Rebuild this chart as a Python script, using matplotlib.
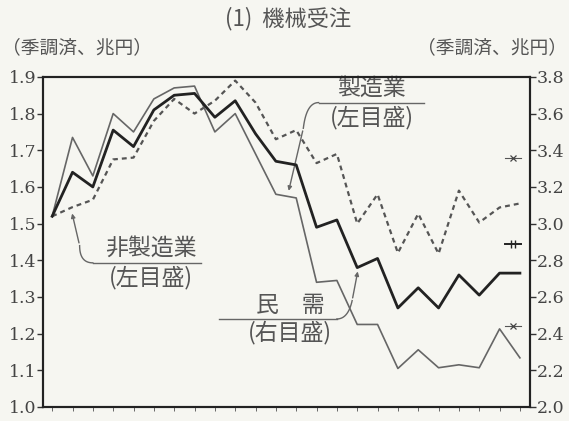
import numpy as np
import matplotlib
matplotlib.use("Agg")
import matplotlib.pyplot as plt

plt.rcParams['font.family'] = ['Noto Sans CJK JP', 'DejaVu Sans']

# monthly points (24 months)
months = np.arange(24)

# 民需 (right axis, 兆円)
minju = [3.04, 3.28, 3.20, 3.51, 3.42, 3.62, 3.70, 3.71, 3.58, 3.67, 3.49, 3.34,
         3.32, 2.98, 3.02, 2.76, 2.81, 2.54, 2.65, 2.54, 2.72, 2.61, 2.73, 2.73]
# 製造業 (left axis)
seizo = [1.52, 1.735, 1.63, 1.80, 1.75, 1.84, 1.87, 1.875, 1.75, 1.80, 1.69, 1.58,
         1.57, 1.34, 1.345, 1.225, 1.225, 1.105, 1.156, 1.107, 1.115, 1.107, 1.213, 1.134]
# 非製造業 (left axis)
hiseizo = [1.52, 1.545, 1.565, 1.675, 1.68, 1.78, 1.84, 1.80, 1.835, 1.89, 1.83, 1.73,
           1.755, 1.665, 1.69, 1.50, 1.58, 1.42, 1.527, 1.418, 1.59, 1.503, 1.544, 1.555]

# outlook marks near the right edge
outlook_hiseizo = 1.68
outlook_minju = 2.89
outlook_seizo = 1.22

bg = '#f6f6f1'
txt = '#555555'

fig = plt.figure(figsize=(5.69, 4.21), dpi=100, facecolor=bg)
ax = fig.add_axes([0.0756, 0.0333, 0.856, 0.784], facecolor=bg)
ax2 = ax.twinx()

ax.plot(months, hiseizo, color='#555555', lw=1.6, dashes=(2.2, 1.8))
ax.plot(months, seizo, color='#666666', lw=1.2)
ax2.plot(months, minju, color='#222222', lw=2.0)

ax.set_xlim(-0.45, 23.5)
ax.set_ylim(1.0, 1.9)
ax2.set_ylim(2.0, 3.8)

ax.set_yticks(np.arange(1.0, 1.91, 0.1))
ax.set_yticklabels([f"{v:.1f}" for v in np.arange(1.0, 1.91, 0.1)])
ax2.set_yticks(np.arange(2.0, 3.81, 0.2))
ax2.set_yticklabels([f"{v:.1f}" for v in np.arange(2.0, 3.81, 0.2)])
ax.set_xticks(months)
ax.set_xticklabels([])

for a in (ax, ax2):
    for s in a.spines.values():
        s.set_linewidth(1.5)
        s.set_color('#222222')
    a.tick_params(axis='y', direction='out', length=4, width=1.0, color='#333333',
                  labelsize=12.5, labelcolor='#444444', pad=1)
    for lab in a.get_yticklabels():
        lab.set_family('DejaVu Serif')
ax.tick_params(axis='x', direction='out', length=3, width=0.7, color='#666666')

# outlook marks
xo = [22.25, 23.05]
ax.plot(xo, [outlook_hiseizo] * 2, color='#555555', lw=0.8)
ax.plot([22.65], [outlook_hiseizo], marker='x', color='#444444', ms=5, mew=0.9)
ax2.plot(xo, [outlook_minju] * 2, color='#222222', lw=1.4)
ax2.plot([22.55, 22.75], [outlook_minju] * 2, ls='none', marker='|', color='#222222', ms=6, mew=1.0)
ax.plot(xo, [outlook_seizo] * 2, color='#555555', lw=0.8)
ax.plot([22.65], [outlook_seizo], marker='x', color='#444444', ms=5, mew=0.9)

lab_kw = dict(ha='center', va='center', fontsize=16.5, color=txt)
lead_kw = dict(color='#666666', lw=1.0)

# 製造業 label
ax.text(15.7, 1.869, '製造業', **lab_kw)
ax.text(15.7, 1.79, '(左目盛)', **lab_kw)
ax.plot([18.3, 13.1], [1.83, 1.83], **lead_kw)
t = np.linspace(0, 1, 20)
cx = (1 - t) ** 2 * 13.1 + 2 * (1 - t) * t * 12.5 + t ** 2 * 12.35
cy = (1 - t) ** 2 * 1.83 + 2 * (1 - t) * t * 1.83 + t ** 2 * 1.76
ax.plot(cx, cy, **lead_kw)
ax.annotate('', xy=(11.6, 1.582), xytext=(12.35, 1.76),
            arrowprops=dict(arrowstyle='-|>', color='#666666', lw=1.0, mutation_scale=6))

# 非製造業 label
ax.text(4.85, 1.434, '非製造業', **lab_kw)
ax.text(4.85, 1.352, '(左目盛)', **lab_kw)
ax.plot([7.3, 2.0], [1.393, 1.393], **lead_kw)
cx = (1 - t) ** 2 * 2.0 + 2 * (1 - t) * t * 1.35 + t ** 2 * 1.35
cy = (1 - t) ** 2 * 1.393 + 2 * (1 - t) * t * 1.393 + t ** 2 * 1.44
ax.plot(cx, cy, **lead_kw)
ax.annotate('', xy=(0.95, 1.535), xytext=(1.35, 1.44),
            arrowprops=dict(arrowstyle='-|>', color='#666666', lw=1.0, mutation_scale=6))

# 民需 label
ax.text(11.7, 1.276, '民　需', **lab_kw)
ax.text(11.7, 1.203, '(右目盛)', **lab_kw)
ax.plot([8.2, 14.0], [1.24, 1.24], **lead_kw)
cx = (1 - t) ** 2 * 14.0 + 2 * (1 - t) * t * 14.55 + t ** 2 * 14.75
cy = (1 - t) ** 2 * 1.24 + 2 * (1 - t) * t * 1.24 + t ** 2 * 1.29
ax.plot(cx, cy, **lead_kw)
ax.annotate('', xy=(15.05, 1.377), xytext=(14.75, 1.29),
            arrowprops=dict(arrowstyle='-|>', color='#666666', lw=1.0, mutation_scale=6))

fig.text(0.507, 0.957, '(1)  機械受注', ha='center', va='center', fontsize=16, color=txt)
fig.text(0.003, 0.886, '（季調済、兆円）', ha='left', va='center', fontsize=13.5, color=txt)
fig.text(0.997, 0.886, '（季調済、兆円）', ha='right', va='center', fontsize=13.5, color=txt)

fig.savefig('out.png', dpi=100, facecolor=bg)
